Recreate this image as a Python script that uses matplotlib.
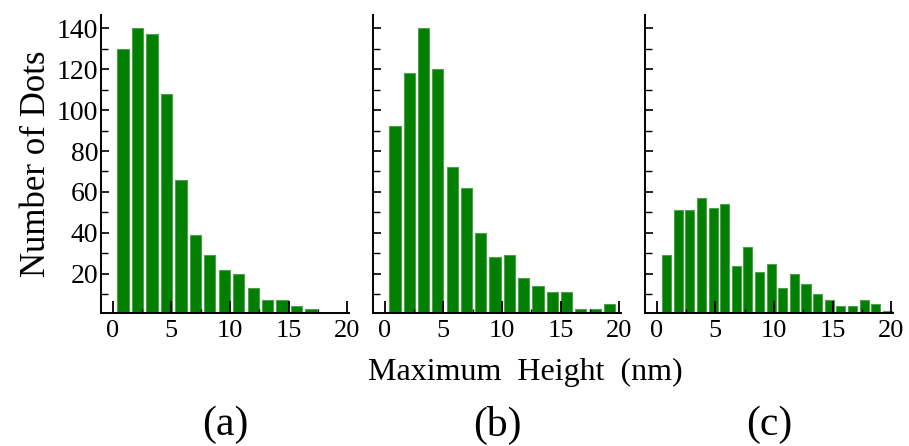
import numpy as np
import matplotlib
matplotlib.use("Agg")
import matplotlib.pyplot as plt
import matplotlib.ticker as mticker

plt.rcParams['font.family'] = ['Liberation Serif', 'DejaVu Serif']

# counts
counts_a = [130, 140, 137, 108, 66, 39, 29, 22, 20, 13, 7, 7, 4, 3]
counts_b = [92, 118, 140, 120, 72, 62, 40, 28, 29, 18, 14, 11, 11, 3, 3, 5]
counts_c = [29, 51, 51, 57, 52, 54, 24, 33, 21, 25, 13, 20, 15, 10, 7, 4, 4, 7, 5, 2]
# bin geometry (nm): centre of first bin and bin width
first_centre = [0.88, 0.87, 0.85]
bin_width = [1.233, 1.22, 0.99]
panel_labels = ['(a)', '(b)', '(c)']
x_ticks = [0, 5, 10, 15, 20]
y_ticks = [20, 40, 60, 80, 100, 120, 140]

W, H = 909, 446
fig = plt.figure(figsize=(W / 100, H / 100), dpi=100)

lefts = [101, 373, 645]
ax_w = 248
bottom_px, top_px = 313, 15

data = [counts_a, counts_b, counts_c]
for i in range(3):
    ax = fig.add_axes([lefts[i] / W, 1 - bottom_px / H, ax_w / W, (bottom_px - top_px) / H])
    c = np.array(data[i])
    x = first_centre[i] + bin_width[i] * np.arange(len(c))
    ax.bar(x, c, width=bin_width[i] * 0.78, color='#007f00', edgecolor='#4f9f4f', linewidth=0.8)
    ax.set_xlim(-1.0, 20.15)
    ax.set_ylim(0.8, 146.5)
    for s in ['top', 'right']:
        ax.spines[s].set_visible(False)
    for s in ['left', 'bottom']:
        ax.spines[s].set_linewidth(1.4)
    ax.xaxis.set_major_locator(mticker.FixedLocator(x_ticks))
    ax.xaxis.set_minor_locator(mticker.MultipleLocator(2.5))
    ax.yaxis.set_major_locator(mticker.FixedLocator(y_ticks))
    ax.yaxis.set_minor_locator(mticker.MultipleLocator(10))
    ax.tick_params(axis='x', which='major', direction='in', length=9, width=1.3, labelsize=19, pad=5)
    ax.tick_params(axis='x', which='minor', direction='in', length=3, width=1.0)
    ax.tick_params(axis='y', which='major', direction='in', length=6, width=1.2, labelsize=20, pad=2)
    ax.tick_params(axis='y', which='minor', direction='in', length=5, width=1.0)
    if i > 0:
        ax.set_yticklabels([])
    else:
        ax.set_ylabel('Number of Dots', fontsize=25, labelpad=3)
    fig.text((lefts[i] + ax_w / 2) / W, 1 - 425 / H, panel_labels[i], fontsize=30,
             ha='center', va='center')

fig.text(525 / W, 1 - 372 / H, 'Maximum  Height  (nm)', fontsize=23, ha='center', va='center')

fig.savefig('out.png', dpi=100)
